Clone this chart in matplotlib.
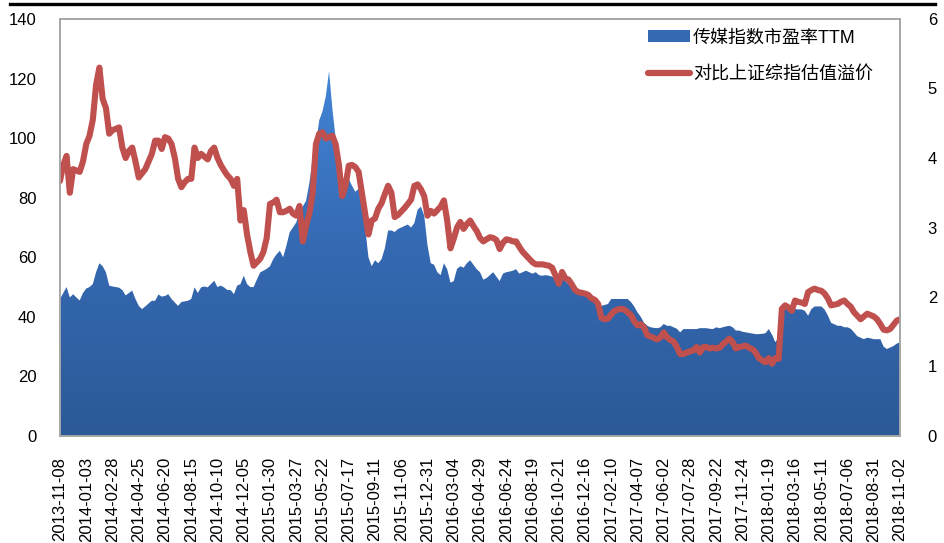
import matplotlib
matplotlib.use('Agg')
import matplotlib.pyplot as plt
from matplotlib.colors import LinearSegmentedColormap
from matplotlib.patches import PathPatch, Patch
from matplotlib.lines import Line2D
import numpy as np

plt.rcParams['font.family'] = ['Liberation Sans', 'Noto Sans CJK SC', 'DejaVu Sans']

# 日期标签(每8个数据点一个)
date_labels = ['2013-11-08', '2014-01-03', '2014-02-28', '2014-04-25', '2014-06-20',
               '2014-08-15', '2014-10-10', '2014-12-05', '2015-01-30', '2015-03-27',
               '2015-05-22', '2015-07-17', '2015-09-11', '2015-11-06', '2015-12-31',
               '2016-03-04', '2016-04-29', '2016-06-24', '2016-08-19', '2016-10-21',
               '2016-12-16', '2017-02-10', '2017-04-07', '2017-06-02', '2017-07-28',
               '2017-09-22', '2017-11-24', '2018-01-19', '2018-03-16', '2018-05-11',
               '2018-07-06', '2018-08-31', '2018-11-02']

# 传媒指数市盈率TTM(左轴)
pe_ttm = [
    46, 48, 50, 46.5, 47.6, 46.5, 45.5, 48, 49.5, 50, 51,
    55, 58, 57, 55, 50.5, 50.2, 50, 49.8, 49, 47.2, 48,
    48.8, 46, 43.7, 42.6, 43.5, 44.5, 45.4, 45.4, 47.5, 46.8, 47,
    47.6, 46, 44.8, 43.7, 45, 45.2, 45.4, 46, 49.9, 48, 49.9,
    50.2, 49.9, 51, 52.1, 50, 50.5, 49.9, 49, 49, 47.6, 50.5,
    51, 53.8, 51, 50, 50, 52.5, 54.9, 55.5, 56.1, 57, 59.4,
    61, 62.2, 60, 63.9, 68.4, 70, 71.7, 75.1, 77, 79, 85,
    93, 98, 106, 109, 114, 122.5, 110, 100, 89, 80, 83,
    86.3, 84, 82, 83, 78, 70, 60, 57, 59, 58, 59.4,
    63, 69, 69, 68.5, 69.5, 70, 70.5, 71, 70, 71.5, 76,
    77, 74, 64, 58, 57.5, 55, 54, 58, 56, 51.5, 52,
    56.1, 57, 56.5, 58, 59, 57.5, 56, 55, 52.5, 53, 54,
    55, 53.5, 52, 54.5, 55, 55.2, 55.5, 56, 54.5, 55, 55.5,
    55, 54.5, 55, 54, 53.8, 54, 53.8, 53.5, 52.5, 51, 53.5,
    52, 51, 50, 49, 48.5, 48.2, 48, 47, 46.5, 45.5, 44,
    43.7, 44, 44.3, 46, 46, 46, 46, 46, 46, 45, 43.5,
    41.5, 40, 38, 37, 36.5, 36.3, 36.2, 36.5, 37.6, 37, 37,
    36.5, 36, 34.8, 35.9, 35.9, 35.9, 35.9, 35.9, 36.2, 36.2, 36.2,
    36, 35.9, 36.5, 36.2, 36.5, 36.8, 37, 36.5, 35.4, 35.4, 35,
    34.8, 34.6, 34.4, 34.2, 34.2, 34.3, 34.5, 35.9, 34, 31.5, 33,
    43.2, 44, 43.5, 43, 42.6, 42.5, 42.5, 42, 40.4, 42.6, 43.5,
    43.5, 43.5, 42.5, 40.5, 38, 37.5, 37, 37, 36.5, 36.5, 36,
    34.8, 33.5, 33, 32.5, 33, 32.8, 32.5, 32.5, 32.5, 30, 29.2,
    29.7, 30.2, 31, 31.5]

# 对比上证综指估值溢价(右轴)
premium = [
    3.67, 3.9, 4.03, 3.5, 3.84, 3.82, 3.8, 3.95, 4.2, 4.32, 4.55,
    5.05, 5.3, 4.85, 4.72, 4.35, 4.4, 4.42, 4.44, 4.15, 4.0, 4.1,
    4.15, 3.95, 3.72, 3.78, 3.84, 3.95, 4.06, 4.25, 4.25, 4.13, 4.3,
    4.28, 4.2, 4.0, 3.7, 3.58, 3.65, 3.7, 3.7, 4.15, 4.0, 4.06,
    4.02, 3.98, 4.1, 4.15, 4.0, 3.9, 3.82, 3.75, 3.7, 3.6, 3.7,
    3.1, 3.25, 2.9, 2.65, 2.45, 2.5, 2.55, 2.65, 2.85, 3.34, 3.36,
    3.4, 3.22, 3.22, 3.24, 3.27, 3.2, 3.17, 3.31, 2.8, 3.03, 3.2,
    3.5, 4.2, 4.35, 4.37, 4.28, 4.3, 4.32, 4.2, 3.9, 3.45, 3.6,
    3.89, 3.9, 3.87, 3.8, 3.5, 3.2, 2.9, 3.1, 3.13, 3.27, 3.35,
    3.48, 3.6, 3.5, 3.15, 3.18, 3.23, 3.28, 3.34, 3.4, 3.6, 3.62,
    3.55, 3.45, 3.17, 3.24, 3.2, 3.25, 3.3, 3.39, 3.1, 2.7, 2.84,
    3.0, 3.08, 2.98, 3.05, 3.1, 3.02, 2.95, 2.85, 2.8, 2.83, 2.86,
    2.85, 2.82, 2.69, 2.78, 2.83, 2.82, 2.8, 2.8, 2.72, 2.65, 2.6,
    2.55, 2.5, 2.47, 2.47, 2.47, 2.46, 2.45, 2.42, 2.31, 2.19, 2.36,
    2.27, 2.25, 2.18, 2.1, 2.07, 2.06, 2.05, 2.03, 1.98, 1.96, 1.9,
    1.7, 1.68, 1.69, 1.75, 1.8, 1.82, 1.83, 1.82, 1.78, 1.74, 1.65,
    1.59, 1.61, 1.56, 1.45, 1.43, 1.41, 1.39, 1.42, 1.49, 1.42, 1.38,
    1.36, 1.28, 1.18, 1.18, 1.2, 1.22, 1.23, 1.28, 1.2, 1.28, 1.28,
    1.26, 1.27, 1.26, 1.27, 1.32, 1.36, 1.4, 1.35, 1.26, 1.28, 1.29,
    1.3, 1.27, 1.25, 1.2, 1.12, 1.09, 1.06, 1.12, 1.04, 1.12, 1.11,
    1.83, 1.88, 1.85, 1.8, 1.95, 1.93, 1.92, 1.9, 2.07, 2.1, 2.12,
    2.1, 2.09, 2.05, 1.98, 1.88, 1.89, 1.9, 1.93, 1.95, 1.9, 1.86,
    1.78, 1.73, 1.68, 1.72, 1.76, 1.74, 1.72, 1.68, 1.61, 1.53, 1.52,
    1.54, 1.6, 1.66, 1.68]

label_pe = '传媒指数市盈率TTM'
label_premium = '对比上证综指估值溢价'

x = np.arange(len(pe_ttm))
n_last = len(pe_ttm) - 1

fig = plt.figure(figsize=(9.45, 5.43), dpi=100)
ax1 = fig.add_axes([60 / 945, 1 - 436 / 543, 840 / 945, 417 / 543])

# 渐变填充面积图
poly = ax1.fill_between(x, pe_ttm, 0, facecolor='none', edgecolor='none')
clip = PathPatch(poly.get_paths()[0], transform=ax1.transData, facecolor='none', edgecolor='none')
ax1.add_patch(clip)
cmap_blue = LinearSegmentedColormap.from_list('blue_grad', ['#2c5a97', '#3569b2', '#4386d8'])
grad = np.linspace(0, 1, 256).reshape(-1, 1)
im = ax1.imshow(grad, extent=[0, n_last, 0, 125], origin='lower', aspect='auto', cmap=cmap_blue, zorder=1)
im.set_clip_path(clip)

ax1.set_xlim(0, n_last)
ax1.set_ylim(0, 140)
ax1.set_yticks(range(0, 141, 20))
ax1.set_xticks(range(0, n_last + 1, 8))
ax1.set_xticklabels(date_labels, rotation=90)
ax1.tick_params(axis='x', length=0, pad=15, labelsize=12)
ax1.tick_params(axis='y', length=0, pad=17, labelsize=12)

# 右轴:估值溢价
ax2 = ax1.twinx()
ax2.plot(x, premium, color='#c0504d', linewidth=4.4, solid_capstyle='round', solid_joinstyle='round')
ax2.set_ylim(0, 6)
ax2.set_yticks(range(0, 7))
ax2.tick_params(axis='y', length=0, pad=20, labelsize=12)

for ax in (ax1, ax2):
    for s in ax.spines.values():
        s.set_color('#a6a6a6')
        s.set_linewidth(1.2)

# 图例
handles = [Patch(facecolor='#3569b2', edgecolor='none'),
           Line2D([0], [0], color='#c0504d', linewidth=4.5, solid_capstyle='round')]
ax2.legend(handles, [label_pe, label_premium], loc='upper left', bbox_to_anchor=(0.700, 0.975),
           frameon=False, fontsize=13, handlelength=2.3, handleheight=0.6, handletextpad=0.2,
           labelspacing=1.1, borderpad=0, borderaxespad=0)

# 顶部黑线
fig.add_artist(Line2D([10 / 945, 935 / 945], [1 - 3.7 / 543, 1 - 3.7 / 543], color='black', linewidth=2.4))

fig.savefig('out.png', dpi=100)
